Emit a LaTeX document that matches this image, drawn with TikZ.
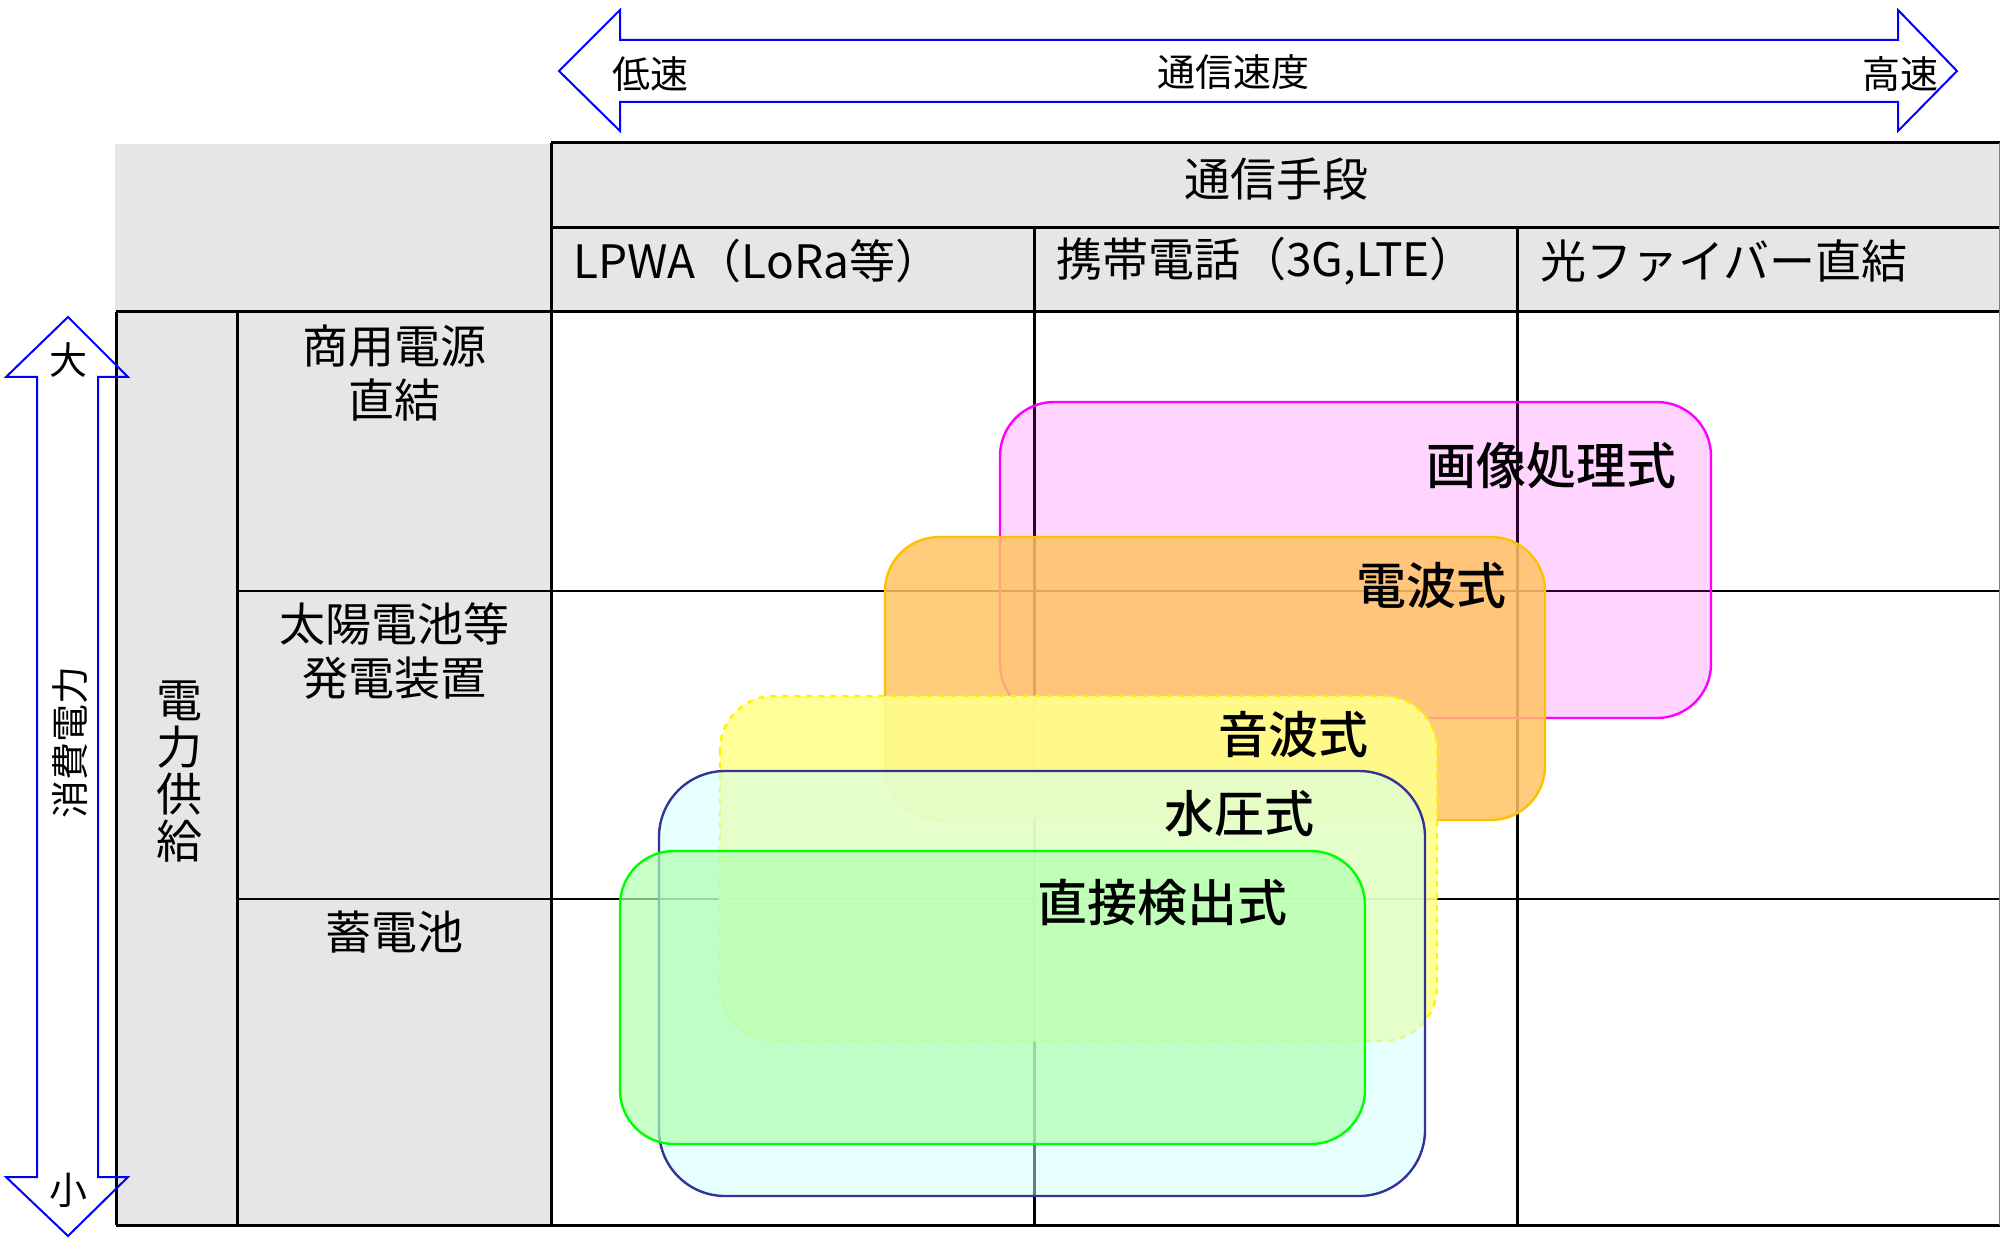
\documentclass[tikz,border=0pt]{standalone}
\usepackage{fontspec}
\setmainfont{Noto Sans CJK JP}
\newfontfamily\labelfont{Noto Sans CJK JP}[UprightFont=* Medium]
\definecolor{headgray}{RGB}{230,230,230}
\definecolor{imgfill}{RGB}{255,0,255}
\definecolor{wavefill}{RGB}{255,195,100}
\definecolor{waveline}{RGB}{255,192,0}
\definecolor{sonicfill}{RGB}{255,255,140}
\definecolor{pressfill}{RGB}{205,255,255}
\definecolor{pressline}{RGB}{51,51,153}
\definecolor{directfill}{RGB}{175,255,175}
\definecolor{directline}{RGB}{0,255,0}
\begin{document}
\begin{tikzpicture}[x=0.5pt,y=-0.5pt,
  gridline/.style={line width=1.5pt},
  innerline/.style={line width=1pt},
  blockarrow/.style={draw=blue,line width=1pt,line join=miter},
  arrowtext/.style={inner sep=0pt,font=\fontsize{19}{19}\selectfont},
  headtext/.style={inner sep=0pt,align=center,font=\fontsize{23}{27}\selectfont},
  boxtext/.style={inner sep=0pt,anchor=east,font=\fontsize{25}{25}\selectfont\labelfont},
  methodbox/.style={line width=1.2pt,rounded corners=27pt}]
\useasboundingbox (0,0) rectangle (2000,1240);

% Gray header areas
\fill[headgray] (115,144) rectangle (551,1225);
\fill[headgray] (551,144) rectangle (2000,312);

% Table lines
\draw[gridline] (551,143) -- (2000,143);
\draw[gridline] (551,228) -- (2000,228);
\draw[gridline] (116,312) -- (2000,312);
\draw[innerline] (237,591) -- (2000,591);
\draw[innerline] (237,899) -- (2000,899);
\draw[gridline] (116,1225) -- (2000,1225);
\draw[gridline] (116,312) -- (116,1225);
\draw[gridline] (237,312) -- (237,1225);
\draw[gridline] (551,143) -- (551,1225);
\draw[gridline] (1034,228) -- (1034,1225);
\draw[gridline] (1517,228) -- (1517,1225);
\draw[gray,thin] (1999,143) -- (1999,1225);

% Communication speed arrow
\draw[blockarrow] (559,71) -- (620,10) -- (620,40) -- (1898,40) -- (1898,10) -- (1957,71)
  -- (1898,131) -- (1898,102) -- (620,102) -- (620,131) -- cycle;
\node[arrowtext] (slow) at (650,74) {低速};
\node[arrowtext] (speed) at (1233,72) {通信速度};
\node[arrowtext] (fast) at (1900,74) {高速};

% Power consumption arrow
\draw[blockarrow] (68,317) -- (128,377) -- (98,377) -- (98,1177) -- (128,1177) -- (68,1236)
  -- (6,1177) -- (37,1177) -- (37,377) -- (6,377) -- cycle;
\node[arrowtext] (large) at (68,360) {大};
\node[arrowtext] (small) at (68,1190) {小};
\node[arrowtext,rotate=90] (power) at (70,742) {消費電力};

% Column headers
\node[headtext] (means) at (1276,179) {通信手段};
\node[headtext,anchor=west] (lpwa) at (573,261) {LPWA（LoRa等）};
\node[headtext,anchor=west] (mobile) at (1056,261) {携帯電話（3G,LTE）};
\node[headtext,anchor=west] (fiber) at (1540,261) {光ファイバー直結};

% Row headers
\node[headtext,font=\fontsize{23}{23.5}\selectfont] (supply) at (179,772) {電\\力\\供\\給};
\node[headtext] (mains) at (394,373) {商用電源\\直結};
\node[headtext] (solar) at (394,651) {太陽電池等\\発電装置};
\node[headtext] (battery) at (394,932) {蓄電池};

% Detection methods
\draw[methodbox,draw=imgfill,fill=imgfill,fill opacity=0.17] (1000,402) rectangle (1711,718);
\node[boxtext] (image) at (1677,466) {画像処理式};
\draw[methodbox,draw=waveline,fill=wavefill,fill opacity=0.85] (885,537) rectangle (1545,820);
\node[boxtext] (radio) at (1507,586) {電波式};
\draw[methodbox,dashed,draw=yellow,fill=sonicfill,fill opacity=0.9] (720,696) rectangle (1437,1041);
\node[boxtext] (sonic) at (1369,735) {音波式};
\draw[methodbox,rounded corners=33pt,draw=pressline,fill=pressfill,fill opacity=0.5] (659,771) rectangle (1425,1196);
\node[boxtext] (press) at (1315,814) {水圧式};
\draw[methodbox,draw=directline,fill=directfill,fill opacity=0.7] (620,851) rectangle (1365,1144);
\node[boxtext] (direct) at (1288,903) {直接検出式};
\end{tikzpicture}
\end{document}
